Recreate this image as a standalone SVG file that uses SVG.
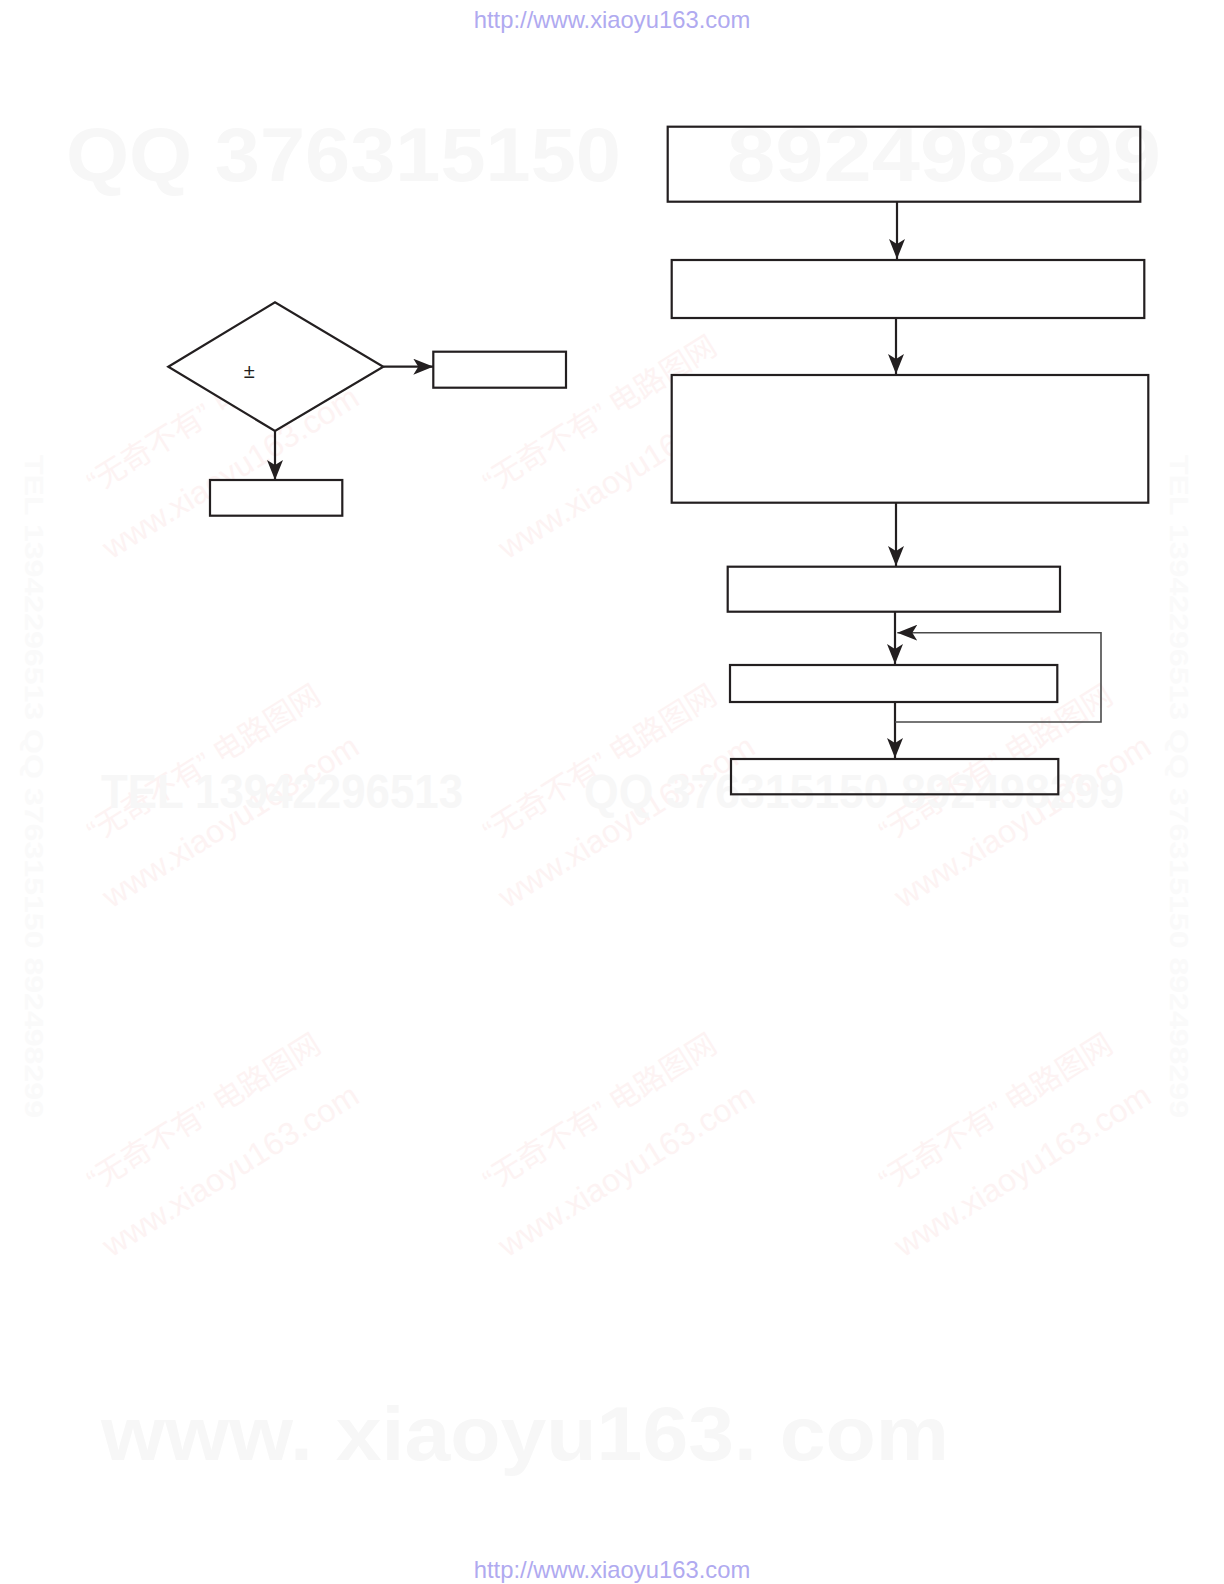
<svg xmlns="http://www.w3.org/2000/svg" width="1224" height="1584" viewBox="0 0 1224 1584">
  <style>
    .node { fill: #ffffff; stroke: #231f20; stroke-width: 2.2; }
    .open { fill: none; }
    .conn { fill: none; stroke: #231f20; stroke-width: 2.2; }
    .fb { fill: none; stroke: #4a4a4a; stroke-width: 1.6; }
    .url { font-family: "Liberation Sans", Arial, sans-serif; font-size: 23.8px; fill: #b0aaf0; }
    .wm { font-family: "Liberation Sans", Arial, sans-serif; font-weight: bold; fill: #f7f7f7; }
    .side { font-family: "Liberation Sans", Arial, sans-serif; font-weight: bold; font-size: 26px; fill: #fafafa; }
    .stamp1 { font-family: "Liberation Sans", "Noto Sans CJK SC", sans-serif; font-size: 30px; fill: #fdf3f3; }
    .stamp2 { font-family: "Liberation Sans", Arial, sans-serif; font-size: 32px; fill: #fdf3f3; }
    .lbl { font-family: "Liberation Sans", Arial, sans-serif; font-size: 20px; fill: #231f20; }
  </style>
  <defs>
    <marker id="arr" markerUnits="userSpaceOnUse" markerWidth="20" markerHeight="16" viewBox="0 0 20 16" refX="20" refY="8" orient="auto">
      <path d="M0,0 L20,8 L0,16 L5,8 z" fill="#231f20"/>
    </marker>
    <g id="stamp">
      <text class="stamp1" x="4" y="-21" text-anchor="middle">“无奇不有” 电路图网</text>
      <text class="stamp2" x="-4" y="43" text-anchor="middle" textLength="295" lengthAdjust="spacingAndGlyphs">www.xiaoyu163.com</text>
    </g>
  </defs>
  <rect width="1224" height="1584" fill="#ffffff"/>

  <g id="watermark-stamps">
    <use href="#stamp" transform="translate(217,443) rotate(-32)"/>
    <use href="#stamp" transform="translate(613,443) rotate(-32)"/>
    <use href="#stamp" transform="translate(217,792) rotate(-32)"/>
    <use href="#stamp" transform="translate(613,792) rotate(-32)"/>
    <use href="#stamp" transform="translate(1009,792) rotate(-32)"/>
    <use href="#stamp" transform="translate(217,1141) rotate(-32)"/>
    <use href="#stamp" transform="translate(613,1141) rotate(-32)"/>
    <use href="#stamp" transform="translate(1009,1141) rotate(-32)"/>
  </g>

  <g id="watermark-text">
    <text class="wm" x="66" y="181" font-size="76" textLength="555" lengthAdjust="spacingAndGlyphs">QQ 376315150</text>
    <text class="wm" x="727" y="181" font-size="76" textLength="434" lengthAdjust="spacingAndGlyphs">892498299</text>
    <text class="wm" x="101" y="808" font-size="49" textLength="362" lengthAdjust="spacingAndGlyphs">TEL 13942296513</text>
    <text class="wm" x="584" y="808" font-size="49" textLength="540" lengthAdjust="spacingAndGlyphs">QQ 376315150  892498299</text>
    <text class="wm" x="101" y="1460" font-size="76" textLength="848" lengthAdjust="spacingAndGlyphs">www. xiaoyu163. com</text>
    <text class="side" transform="translate(25,455) rotate(90)" textLength="663" lengthAdjust="spacingAndGlyphs">TEL 13942296513 QQ 376315150 892498299</text>
    <text class="side" transform="translate(1170,455) rotate(90)" textLength="663" lengthAdjust="spacingAndGlyphs">TEL 13942296513 QQ 376315150 892498299</text>
  </g>

  <g id="connectors">
    <line class="conn" x1="383.3" y1="366.7" x2="433.3" y2="366.7" marker-end="url(#arr)"/>
    <line class="conn" x1="275" y1="431" x2="275" y2="480" marker-end="url(#arr)"/>
    <line class="conn" x1="897" y1="201.7" x2="897" y2="259" marker-end="url(#arr)"/>
    <line class="conn" x1="896" y1="318" x2="896" y2="374" marker-end="url(#arr)"/>
    <line class="conn" x1="896" y1="502.7" x2="896" y2="566" marker-end="url(#arr)"/>
    <line class="conn" x1="895" y1="611.7" x2="895" y2="664" marker-end="url(#arr)"/>
    <line class="conn" x1="895" y1="702" x2="895" y2="758" marker-end="url(#arr)"/>
    <polyline class="fb" points="895,722 1101,722 1101,632.7 897.3,632.7" marker-end="url(#arr)"/>
  </g>

  <g id="decision">
    <polygon class="node" points="168.3,366.7 275,302.3 383.3,366.7 275,431"/>
    <text class="lbl" x="249.3" y="378" text-anchor="middle">±</text>
  </g>
  <g id="box-right"><rect class="node" x="433.3" y="351.7" width="132.7" height="36"/></g>
  <g id="box-below"><rect class="node" x="210" y="480" width="132.3" height="35.7"/></g>

  <g id="step1"><rect class="node open" x="667.7" y="126.7" width="472.6" height="75"/></g>
  <g id="step2"><rect class="node" x="671.7" y="260" width="472.6" height="58"/></g>
  <g id="step3"><rect class="node" x="671.7" y="375" width="476.6" height="127.7"/></g>
  <g id="step4"><rect class="node" x="727.7" y="566.7" width="332.3" height="45"/></g>
  <g id="step5"><rect class="node" x="730" y="665" width="327.3" height="37"/></g>
  <g id="step6"><rect class="node open" x="731" y="759" width="327.3" height="35.3"/></g>

  <g id="urls">
    <text class="url" x="612" y="28" text-anchor="middle">http://www.xiaoyu163.com</text>
    <text class="url" x="612" y="1578" text-anchor="middle">http://www.xiaoyu163.com</text>
  </g>
</svg>
